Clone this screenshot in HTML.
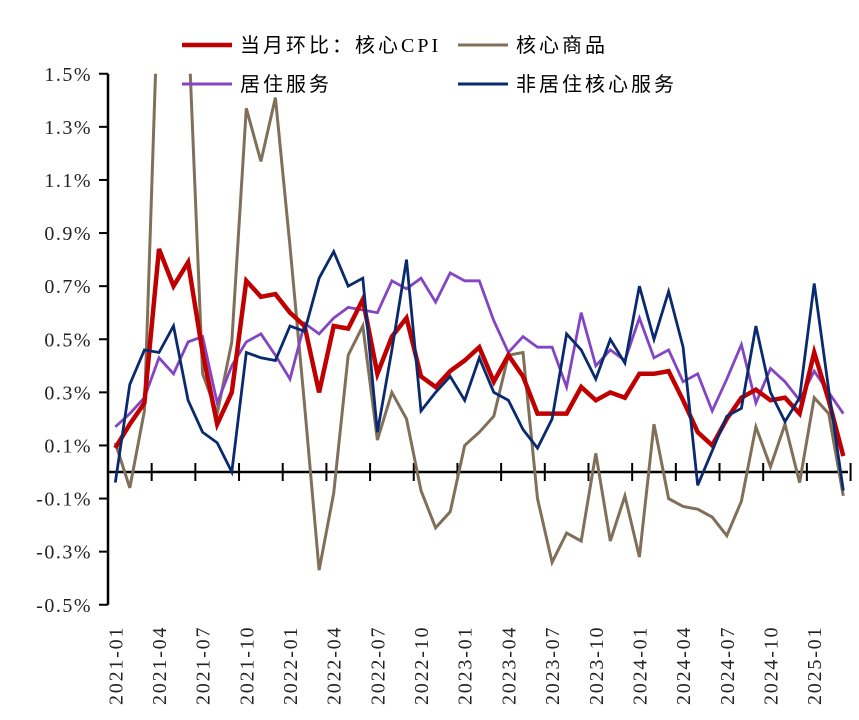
<!DOCTYPE html>
<html><head><meta charset="utf-8"><style>
body{margin:0;background:#fff;}
svg{display:block;font-family:"Liberation Serif","Noto Serif CJK SC",serif;}
</style></head><body>
<svg id="chart" width="859" height="720"></svg>
<script>
const months = ["2021-01","2021-04","2021-07","2021-10","2022-01","2022-04","2022-07","2022-10","2023-01","2023-04","2023-07","2023-10","2024-01","2024-04","2024-07","2024-10","2025-01"];
const yTicks = [1.5,1.3,1.1,0.9,0.7,0.5,0.3,0.1,-0.1,-0.3,-0.5];
const coreCPI = [0.09,0.18,0.26,0.84,0.70,0.79,0.45,0.18,0.30,0.72,0.66,0.67,0.60,0.55,0.30,0.55,0.54,0.65,0.37,0.51,0.58,0.36,0.32,0.38,0.42,0.47,0.34,0.44,0.36,0.22,0.22,0.22,0.32,0.27,0.30,0.28,0.37,0.37,0.38,0.27,0.15,0.10,0.20,0.28,0.31,0.27,0.28,0.22,0.45,0.27,0.06];
const coreGoods = [0.11,-0.06,0.23,1.9,2.2,1.7,0.37,0.22,0.49,1.37,1.17,1.41,0.85,0.25,-0.37,-0.08,0.44,0.55,0.12,0.30,0.20,-0.07,-0.21,-0.15,0.10,0.15,0.21,0.44,0.45,-0.10,-0.34,-0.23,-0.26,0.07,-0.26,-0.09,-0.32,0.18,-0.10,-0.13,-0.14,-0.17,-0.24,-0.11,0.17,0.02,0.18,-0.04,0.28,0.22,-0.09];
const shelter = [0.17,0.22,0.28,0.43,0.37,0.49,0.51,0.26,0.40,0.49,0.52,0.44,0.35,0.56,0.52,0.58,0.62,0.61,0.60,0.72,0.69,0.73,0.64,0.75,0.72,0.72,0.57,0.45,0.51,0.47,0.47,0.32,0.60,0.40,0.46,0.42,0.58,0.43,0.46,0.34,0.37,0.23,0.35,0.48,0.26,0.39,0.34,0.27,0.38,0.30,0.22];
const superCore = [-0.04,0.33,0.46,0.45,0.55,0.27,0.15,0.11,0.0,0.45,0.43,0.42,0.55,0.53,0.73,0.83,0.70,0.73,0.15,0.46,0.80,0.23,0.30,0.36,0.27,0.43,0.30,0.27,0.16,0.09,0.20,0.52,0.46,0.35,0.50,0.41,0.70,0.50,0.68,0.47,-0.05,0.08,0.21,0.24,0.55,0.30,0.19,0.28,0.71,0.31,-0.07];

const NS="http://www.w3.org/2000/svg";
const svg=document.getElementById('chart');
const X0=108, STEP=14.56, Y0=472, PXPER=265.5;
const xOf=i=>X0+STEP*(i+0.5);
const yOf=v=>Y0-v*PXPER;
function mk(tag,attrs){const e=document.createElementNS(NS,tag);for(const k in attrs)e.setAttribute(k,attrs[k]);svg.appendChild(e);return e;}

const defs=mk('defs',{});
const cp=document.createElementNS(NS,'clipPath');cp.setAttribute('id','plotclip');
const cr=document.createElementNS(NS,'rect');cr.setAttribute('x',100);cr.setAttribute('y',yOf(1.5));cr.setAttribute('width',760);cr.setAttribute('height',600);
cp.appendChild(cr);defs.appendChild(cp);

// y axis
const yAxis=mk('line',{x1:X0,y1:yOf(1.5),x2:X0,y2:yOf(-0.5),stroke:'#000','stroke-width':2.5});


yTicks.forEach(v=>{
  const t=mk('line',{x1:99,y1:yOf(v),x2:X0,y2:yOf(v),stroke:'#000','stroke-width':2});
  
  
  const l=mk('text',{x:92,y:yOf(v)+7,'text-anchor':'end','font-size':20,'letter-spacing':1.5,fill:'#222'});
  l.textContent=v.toFixed(1)+'%';
  
  
});
// x axis
const xAxis=mk('line',{x1:X0,y1:Y0,x2:848,y2:Y0,stroke:'#000','stroke-width':2.5});


for(let k=1;k<=17;k++){
  const x=X0+STEP*3*k;
  const t=mk('line',{x1:x,y1:Y0-9,x2:x,y2:Y0+9,stroke:'#000','stroke-width':2});
  
  
}
months.forEach((m,j)=>{
  const x=xOf(j*3)+7;
  const l=mk('text',{x:x,y:705,'text-anchor':'start','font-size':20,'letter-spacing':1.8,fill:'#222',transform:`rotate(-90 ${x} 705)`});
  l.textContent=m;
  
  
});

function series(arr,color,w,name){
  const d=arr.map((v,i)=>(i?'L':'M')+xOf(i).toFixed(1)+' '+yOf(v).toFixed(1)).join(' ');
  const p=mk('path',{d:d,fill:'none',stroke:color,'stroke-width':w,'stroke-linejoin':'miter','clip-path':'url(#plotclip)'});
  
  
}
series(coreGoods,'#807059',3,'core-goods-line');
series(shelter,'#8445c4',2.8,'shelter-line');
series(coreCPI,'#c00000',4.5,'core-cpi-line');
series(superCore,'#0a2a6e',2.8,'non-shelter-services-line');

// legend
function legend(x,y,color,w,txt,name){
  const g=mk('g',{});
  
  
  const l=document.createElementNS(NS,'line');
  l.setAttribute('x1',x);l.setAttribute('x2',x+50);l.setAttribute('y1',y);l.setAttribute('y2',y);
  l.setAttribute('stroke',color);l.setAttribute('stroke-width',w);g.appendChild(l);
  const t=document.createElementNS(NS,'text');
  t.setAttribute('x',x+58);t.setAttribute('y',y+7);t.setAttribute('font-size',20);
  t.setAttribute('letter-spacing',3);
  t.setAttribute('font-family','"Liberation Serif","Noto Sans CJK SC",sans-serif');
  t.textContent=txt;g.appendChild(t);
}
legend(182,45,'#c00000',4.5,'当月环比：核心CPI','legend-core-cpi');
legend(458,45,'#807059',3,'核心商品','legend-core-goods');
legend(182,84,'#8445c4',3,'居住服务','legend-shelter');
legend(458,84,'#0a2a6e',3,'非居住核心服务','legend-non-shelter-services');
</script>
</body></html>
